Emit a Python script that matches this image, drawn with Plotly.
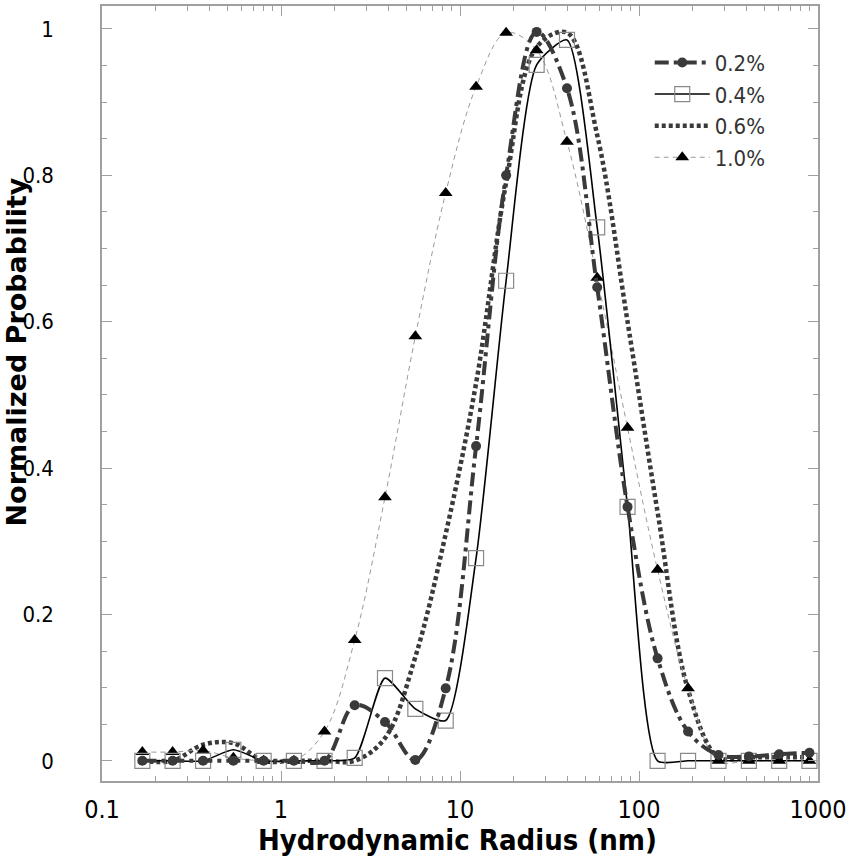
import plotly.graph_objects as go

# Hydrodynamic radius (nm) sample points
radius = [0.168, 0.248, 0.367, 0.542, 0.800, 1.18, 1.75, 2.58, 3.81, 5.63, 8.32,
          12.3, 18.1, 26.8, 39.6, 58.4, 86.3, 127, 188, 278, 411, 607, 896]

p_02 = [0, 0, 0, 0, 0, 0, 0, 0.076, 0.053, 0.001, 0.099,
        0.43, 0.80, 0.996, 0.919, 0.647, 0.347, 0.140, 0.040, 0.008, 0.006, 0.009, 0.011]
p_04 = [0, 0, 0, 0.015, 0, 0, 0, 0.004, 0.113, 0.071, 0.055,
        0.277, 0.656, 0.951, 0.985, 0.729, 0.347, 0, 0, 0, 0, 0, 0]
p_06 = [0, 0, 0.022, 0.024, 0, 0, 0, 0, 0.031, 0.142, 0.31,
        0.516, 0.79, 0.975, 0.995, 0.855, 0.60, 0.34, 0.097, 0.005, 0.005, 0.005, 0.005]
p_10 = [0.012, 0.012, 0.014, 0.004, 0, 0, 0.040, 0.165, 0.36, 0.58, 0.776,
        0.921, 0.995, 0.971, 0.846, 0.66, 0.455, 0.261, 0.099, 0, 0, 0, 0]

names = ["0.2%", "0.4%", "0.6%", "1.0%"]

x_tickvals = [0.1, 1, 10, 100, 1000]
x_ticktext = ["0.1", "1", "10", "100", "1000"]
x_minor = [k * 10 ** e for e in range(-1, 3) for k in range(2, 10)]

COND = "DejaVu Sans Condensed, Liberation Sans, sans-serif"

fig = go.Figure()

fig.add_trace(go.Scatter(
    x=radius, y=p_06, name=names[2], mode="lines", legendrank=3,
    line=dict(color="#3a3a3a", width=4.5, dash="4px,3px", shape="spline", smoothing=1.0),
))
fig.add_trace(go.Scatter(
    x=radius, y=p_10, name=names[3], mode="lines+markers", legendrank=4,
    line=dict(color="#9a9a9a", width=1, dash="5px,4px", shape="spline", smoothing=1.0),
    marker=dict(symbol="triangle-up", size=12, color="#000000"),
))
fig.add_trace(go.Scatter(
    x=radius, y=p_04, name=names[1], mode="lines+markers", legendrank=2,
    line=dict(color="#000000", width=1.6, shape="spline", smoothing=0.6),
    marker=dict(symbol="square-open", size=15, color="#8a8a8a", line=dict(width=1.2)),
))
fig.add_trace(go.Scatter(
    x=radius, y=p_02, name=names[0], mode="lines+markers", legendrank=1,
    line=dict(color="#3a3a3a", width=4, dash="14px,5px,4px,5px", shape="spline", smoothing=1.0),
    marker=dict(symbol="circle", size=10, color="#3a3a3a"),
))

axis_common = dict(
    showgrid=False, zeroline=False, showline=True, linecolor="#a0a0a0", linewidth=1.5,
    mirror="allticks", ticks="inside", ticklen=10, tickcolor="#a0a0a0", tickwidth=1.2,
    automargin=False,
)

fig.update_layout(
    width=851, height=858,
    margin=dict(l=102, r=33, t=6, b=77),
    paper_bgcolor="white", plot_bgcolor="white",
    xaxis=dict(
        type="log", range=[-1, 3], tickvals=x_tickvals, ticktext=x_ticktext,
        ticklabelstandoff=5,
        tickfont=dict(family=COND, size=25, color="#000000"),
        minor=dict(ticks="inside", ticklen=5, tickcolor="#a0a0a0", tickvals=x_minor),
        **axis_common,
    ),
    yaxis=dict(
        range=[-0.0276, 1.0314], tickvals=[0, 0.2, 0.4, 0.6, 0.8, 1.0],
        ticktext=["0", "0.2", "0.4", "0.6", "0.8", "1"],
        ticklabelstandoff=42,
        tickfont=dict(family=COND, size=22, color="#000000"),
        minor=dict(ticks="inside", ticklen=5, tickcolor="#a0a0a0", dtick=0.05),
        **axis_common,
    ),
    legend=dict(
        x=0.765, y=0.954, xanchor="left", yanchor="top",
        itemwidth=55,
        font=dict(family=COND, size=22, color="#333333"),
        bgcolor="rgba(0,0,0,0)",
    ),
    showlegend=True,
    annotations=[
        dict(text="<b>Hydrodynamic Radius (nm)</b>", xref="paper", yref="paper",
             x=0.497, y=-0.0755, xanchor="center", yanchor="middle", showarrow=False,
             font=dict(family=COND, size=29, color="#000000")),
        dict(text="<b>Normalized Probability</b>", xref="paper", yref="paper",
             x=-0.1195, y=0.5535, xanchor="center", yanchor="middle", textangle=-90, showarrow=False,
             font=dict(family="DejaVu Sans, sans-serif", size=27, color="#000000")),
    ],
)

fig.write_html("out.html")
